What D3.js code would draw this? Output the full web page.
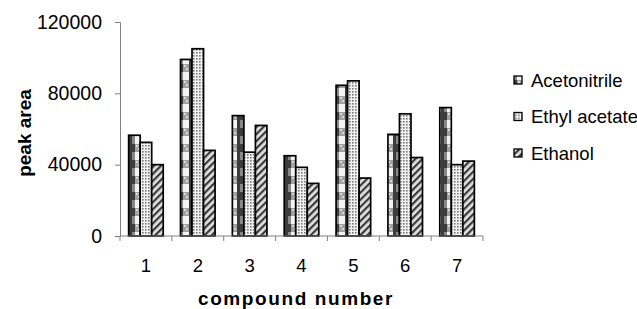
<html>
  <head>
    <style>
      body { margin: 0; background: #fff; }
      text { font-family: "Liberation Sans", Arial, sans-serif; fill: #000; }
      .bar { stroke: #000; stroke-width: 1.7px; }
    </style>
  </head>
  <body>
    <script src="https://d3js.org/d3.v7.min.js"></script>
    <script>
    var width = 637, height = 309;

    // data
    var compounds = ["1", "2", "3", "4", "5", "6", "7"];
    var seriesNames = ["Acetonitrile", "Ethyl acetate", "Ethanol"];
    var acetonitrile = [56500, 99000, 67500, 45000, 84500, 57000, 72000];
    var ethylAcetate = [52500, 105000, 47000, 38500, 87000, 68500, 40000];
    var ethanol = [40000, 48000, 62000, 29500, 32500, 44000, 42000];
    var yTicks = [0, 40000, 80000, 120000];

    var series = [acetonitrile, ethylAcetate, ethanol];
    var fills = ["url(#pat-acn)", "url(#pat-ea)", "url(#pat-eth)"];

    var margin = {top: 22, right: 154, bottom: 73, left: 120};

    var svg = d3.select("body")
        .append("svg")
        .attr("width", width)
        .attr("height", height);

    // fill patterns
    var defs = svg.append("defs");

    var p1 = defs.append("pattern").attr("id", "pat-acn")
        .attr("patternUnits", "userSpaceOnUse").attr("width", 12).attr("height", 16);
    p1.append("rect").attr("width", 12).attr("height", 16).attr("fill", "#3c3c3c");
    p1.append("rect").attr("x", 3).attr("y", 0).attr("width", 6).attr("height", 8).attr("fill", "#a0a0a0");
    p1.append("rect").attr("x", 4).attr("y", 1).attr("width", 2).attr("height", 2).attr("fill", "#d8d8d8");
    p1.append("rect").attr("x", 6).attr("y", 4).attr("width", 2).attr("height", 2).attr("fill", "#d8d8d8");
    p1.append("rect").attr("x", 3).attr("y", 8).attr("width", 6).attr("height", 8).attr("fill", "#f4f4f4");
    p1.append("rect").attr("x", 0).attr("y", 8).attr("width", 3).attr("height", 8).attr("fill", "#888");

    var p2 = defs.append("pattern").attr("id", "pat-ea")
        .attr("patternUnits", "userSpaceOnUse").attr("width", 3).attr("height", 3);
    p2.append("rect").attr("width", 3).attr("height", 3).attr("fill", "#f2f2f2");
    p2.append("rect").attr("x", 1).attr("y", 1).attr("width", 1.6).attr("height", 1.6).attr("fill", "#7a7a7a");

    var p3 = defs.append("pattern").attr("id", "pat-eth")
        .attr("patternUnits", "userSpaceOnUse").attr("width", 5).attr("height", 5)
        .attr("patternTransform", "rotate(45)");
    p3.append("rect").attr("width", 5).attr("height", 5).attr("fill", "#e0e0e0");
    p3.append("rect").attr("width", 2.2).attr("height", 5).attr("fill", "#3a3a3a");

    var x = d3.scaleBand()
        .domain(compounds)
        .range([margin.left, width - margin.right])
        .paddingInner(1 / 3)
        .paddingOuter(1 / 6);

    var xs = d3.scaleBand()
        .domain(d3.range(series.length))
        .range([0, x.bandwidth()]);

    var y = d3.scaleLinear()
        .domain([0, 120000])
        .range([height - margin.bottom, margin.top]);

    // bars
    series.forEach(function(vals, si) {
      svg.append("g").selectAll("rect")
        .data(vals)
        .enter()
        .append("rect")
        .attr("class", "bar")
        .attr("x", function(d, i) { return x(compounds[i]) + xs(si); })
        .attr("y", function(d) { return y(d); })
        .attr("width", xs.bandwidth())
        .attr("height", function(d) { return y(0) - y(d); })
        .attr("fill", fills[si]);
    });

    // y axis
    var yAxis = svg.append("g")
        .attr("transform", "translate(" + margin.left + ",0)")
        .call(d3.axisLeft(y).tickValues(yTicks).tickFormat(d3.format("d")).tickSize(5).tickPadding(13));
    yAxis.selectAll("text").style("font-size", "19.5px").style("font-family", "Liberation Sans, Arial, sans-serif");
    yAxis.selectAll("line, path").attr("stroke", "#808080");

    // x axis, ticks on category boundaries
    var step = x.step();
    var bounds = d3.range(compounds.length + 1).map(function(i) { return margin.left + i * step; });
    var xAxis = svg.append("g");
    xAxis.append("line")
        .attr("x1", margin.left).attr("x2", width - margin.right)
        .attr("y1", y(0)).attr("y2", y(0))
        .attr("stroke", "#808080");
    xAxis.selectAll(".tk")
        .data(bounds)
        .enter()
        .append("line")
        .attr("x1", function(d) { return d; }).attr("x2", function(d) { return d; })
        .attr("y1", y(0)).attr("y2", y(0) + 5)
        .attr("stroke", "#808080");
    xAxis.selectAll(".lbl")
        .data(compounds)
        .enter()
        .append("text")
        .attr("x", function(d) { return x(d) + x.bandwidth() / 2; })
        .attr("y", 272)
        .attr("text-anchor", "middle")
        .style("font-size", "18.5px")
        .text(function(d) { return d; });

    // axis titles
    svg.append("text")
        .attr("x", 296).attr("y", 305)
        .attr("text-anchor", "middle")
        .style("font-size", "19px").style("font-weight", "bold").style("letter-spacing", "1.6px")
        .text("compound number");

    svg.append("text")
        .attr("transform", "translate(31,133) rotate(-90)")
        .attr("text-anchor", "middle")
        .style("font-size", "19px").style("font-weight", "bold")
        .text("peak area");

    // legend
    var legend = svg.append("g").selectAll("g")
        .data(seriesNames)
        .enter()
        .append("g")
        .attr("transform", function(d, i) { return "translate(514," + (80 + i * 36.5) + ")"; });
    legend.append("rect")
        .attr("x", 0).attr("y", -4).attr("width", 8).attr("height", 8)
        .attr("stroke", "#000").attr("stroke-width", 1.3)
        .attr("fill", function(d, i) { return fills[i]; });
    legend.append("text")
        .attr("x", 17).attr("y", 0)
        .attr("dominant-baseline", "central")
        .style("font-size", "18.5px")
        .text(function(d) { return d; });
    </script>
  </body>
</html>
